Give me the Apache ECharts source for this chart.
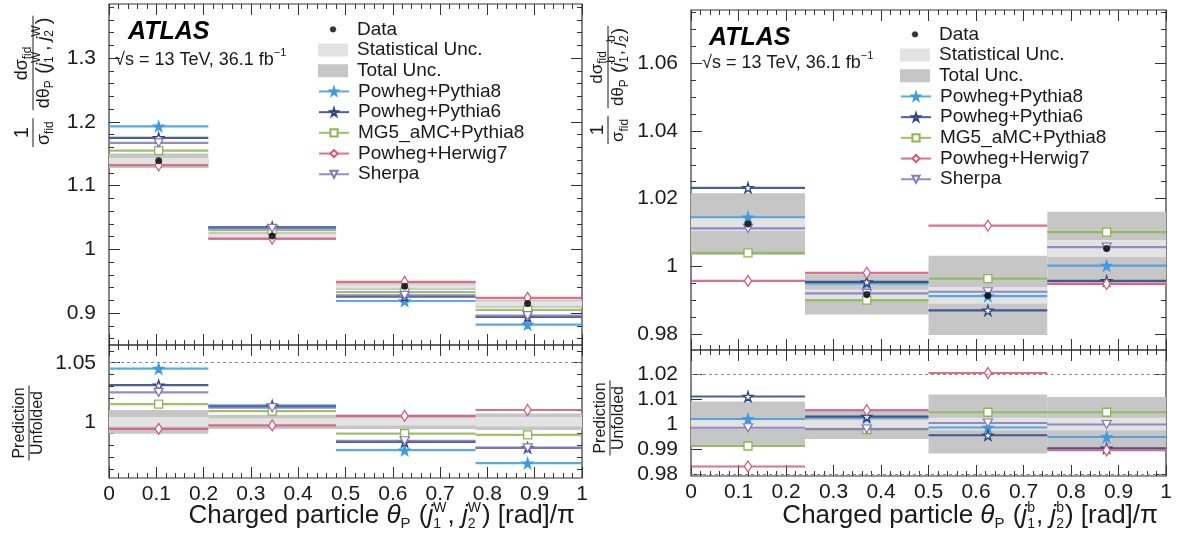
<!DOCTYPE html>
<html>
<head>
<meta charset="utf-8">
<title>Charged particle pull angle</title>
<script src="https://cdn.jsdelivr.net/npm/echarts@6/dist/echarts.min.js"></script>
<style>
  html, body { margin: 0; padding: 0; background: #fff; }
  #chart { width: 1177px; height: 543px; }
</style>
</head>
<body>
<div id="chart"></div>
<script>
// ---- binning ----
var leftEdges = [0, 0.21, 0.48, 0.775, 1];
var leftCenters = [0.105, 0.345, 0.625, 0.885];
var rightEdges = [0, 0.24, 0.5, 0.75, 1];
var rightCenters = [0.12, 0.37, 0.625, 0.875];

var modelNames = ['Powheg+Pythia8', 'Powheg+Pythia6', 'MG5_aMC+Pythia8', 'Powheg+Herwig7', 'Sherpa'];

// ---- left: theta_P(j1W, j2W), normalised cross-section ----
var leftData = [1.139, 1.021, 0.942, 0.915];
var leftPythia8 = [1.193, 1.035, 0.919, 0.882];
var leftPythia6 = [1.175, 1.034, 0.926, 0.894];
var leftMG5 = [1.155, 1.030, 0.933, 0.905];
var leftHerwig7 = [1.132, 1.017, 0.949, 0.924];
var leftSherpa = [1.167, 1.033, 0.928, 0.896];
var leftTotalRel = [0.010, 0.006, 0.006, 0.007];
var leftStatRel = [0.004, 0.003, 0.003, 0.004];

// left ratio prediction / unfolded
var leftRatioPythia8 = [1.045, 1.014, 0.976, 0.965];
var leftRatioPythia6 = [1.031, 1.013, 0.983, 0.978];
var leftRatioMG5 = [1.015, 1.009, 0.990, 0.989];
var leftRatioHerwig7 = [0.994, 0.997, 1.005, 1.010];
var leftRatioSherpa = [1.025, 1.012, 0.984, 0.978];

// ---- right: theta_P(j1b, j2b) ----
var rightData = [1.0125, 0.9917, 0.9914, 1.0053];
var rightPythia8 = [1.0145, 0.9950, 0.9912, 1.0002];
var rightPythia6 = [1.0232, 0.9954, 0.9870, 0.9957];
var rightMG5 = [1.0040, 0.9900, 0.9964, 1.0101];
var rightHerwig7 = [0.9957, 0.9981, 1.0120, 0.9948];
var rightSherpa = [1.0112, 0.9920, 0.9925, 1.0057];
var rightTotalRel = [0.009, 0.006, 0.0118, 0.0108];
var rightStatRel = [0.002, 0.0015, 0.0025, 0.0025];

var rightRatioPythia8 = [1.0020, 1.0025, 0.9986, 0.9948];
var rightRatioPythia6 = [1.0110, 1.0030, 0.9955, 0.9903];
var rightRatioMG5 = [0.9912, 0.9978, 1.0047, 1.0047];
var rightRatioHerwig7 = [0.9830, 1.0055, 1.0204, 0.9895];
var rightRatioSherpa = [0.9985, 0.9980, 1.0004, 0.9998];

// ---- ticks ----
var xTickLabels = [0, 0.1, 0.2, 0.3, 0.4, 0.5, 0.6, 0.7, 0.8, 0.9, 1];
var leftTopYTicks = [0.9, 1, 1.1, 1.2, 1.3];
var leftRatioYTicks = [1, 1.05];
var rightTopYTicks = [0.98, 1, 1.02, 1.04, 1.06];
var rightRatioYTicks = [0.98, 0.99, 1, 1.01, 1.02];
var leftRatioRefLines = [1.05];
var rightRatioRefLines = [0.98, 1.02];

var FONT = '"Liberation Sans", Arial, Helvetica, sans-serif';
var INK = '#1a1a1a';
var modelColors = ['#3d9be0', '#2e4383', '#8fb552', '#d8577b', '#8379bf'];
var STAR = 'path://M50,0 L61,35 L98,35 L68,57 L79,91 L50,70 L21,91 L32,57 L2,35 L39,35 Z';
var modelMarkers = [
  { symbol: STAR, size: 10, open: false },
  { symbol: STAR, size: 10, open: true },
  { symbol: 'path://M0,0 L10,0 L10,10 L0,10 Z', size: 8, open: true },
  { symbol: 'path://M5,0 L10,8 L5,16 L0,8 Z', size: [7, 11], open: true },
  { symbol: 'path://M0,0 L12,0 L6,10 Z', size: [9, 8], open: true }
];

var grids = [
  { left: 109, top: 4, width: 473, height: 341 },
  { left: 109, top: 345, width: 473, height: 133 },
  { left: 691, top: 10, width: 475, height: 340 },
  { left: 691, top: 350, width: 475, height: 126 }
];

function minorTicks(min, max, step) {
  var out = [];
  for (var k = Math.ceil(min / step - 1e-9); k * step <= max + 1e-9; k++) {
    out.push(+(k * step).toFixed(6));
  }
  return out;
}

function fmt(v) { return String(+(+v).toFixed(4)); }

function axisSet(dim, g, min, max, majors, minorStep, showLabels) {
  var posA = dim === 'x' ? 'bottom' : 'left';
  var posB = dim === 'x' ? 'top' : 'right';
  var minors = minorStep ? minorTicks(min, max, minorStep) : [];
  function one(pos, vals, len, labels) {
    return {
      type: 'value', gridIndex: g, min: min, max: max, position: pos,
      splitLine: { show: false },
      axisLine: { show: false, onZero: false },
      axisTick: { show: vals.length > 0, inside: true, length: len, customValues: vals,
        lineStyle: { color: '#333', width: 1 } },
      axisLabel: labels ? {
        show: true, customValues: majors, formatter: fmt,
        fontSize: 21, fontFamily: FONT, color: INK, margin: dim === 'x' ? 6 : 13
      } : { show: false }
    };
  }
  return [
    one(posA, majors, 11, showLabels),
    one(posA, minors, 5, false),
    one(posB, majors, 11, false),
    one(posB, minors, 5, false)
  ];
}

var xAxes = [].concat(
  axisSet('x', 0, 0, 1, xTickLabels, 0.02, false),
  axisSet('x', 1, 0, 1, xTickLabels, 0.02, true),
  axisSet('x', 2, 0, 1, xTickLabels, 0.02, false),
  axisSet('x', 3, 0, 1, xTickLabels, 0.02, true)
);
var yAxes = [].concat(
  axisSet('y', 0, 0.85, 1.385, leftTopYTicks, 0.02, true),
  axisSet('y', 1, 0.9525, 1.065, leftRatioYTicks, 0.01, true),
  axisSet('y', 2, 0.9753, 1.0757, rightTopYTicks, 0.005, true),
  axisSet('y', 3, 0.9792, 1.0296, rightRatioYTicks, 0, true)
);

function bandRender(params, api) {
  var lo = api.value(0), hi = api.value(1), c = api.value(2), e = api.value(3);
  var tl = api.coord([lo, c + e]), br = api.coord([hi, c - e]);
  var cs = params.coordSys;
  var shape = echarts.graphic.clipRectByRect(
    { x: tl[0], y: tl[1], width: br[0] - tl[0], height: br[1] - tl[1] },
    { x: cs.x, y: cs.y, width: cs.width, height: cs.height });
  return shape && { type: 'rect', shape: shape, style: { fill: api.visual('color') } };
}

function stepData(edges, centers, values) {
  var out = [];
  values.forEach(function (v, i) {
    out.push({ value: [edges[i], v], symbol: 'none' });
    out.push({ value: [centers[i], v] });
    out.push({ value: [edges[i + 1], v], symbol: 'none' });
    out.push([edges[i + 1], '-']);
  });
  return out;
}

function panel(g, edges, centers, centerVals, models, totalRel, statRel, refLines, withData) {
  var idx = g * 4;
  var list = [];
  function band(name, color, rel, z) {
    return {
      type: 'custom', name: name, xAxisIndex: idx, yAxisIndex: idx, z: z,
      itemStyle: { color: color }, renderItem: bandRender, silent: true,
      data: centerVals.map(function (c, i) { return [edges[i], edges[i + 1], c, c * rel[i]]; })
    };
  }
  var total = band('Total Unc.', '#c6c6c6', totalRel, 1);
  if (refLines.length) {
    total.markLine = {
      silent: true, symbol: 'none', label: { show: false }, animation: false,
      lineStyle: { type: [3, 3], color: '#8a8a8a', width: 1 },
      data: refLines.map(function (v) { return { yAxis: v }; })
    };
  }
  list.push(total, band('Statistical Unc.', '#e3e3e3', statRel, 2));
  models.forEach(function (vals, k) {
    var m = modelMarkers[k], col = modelColors[k];
    list.push({
      type: 'line', name: modelNames[k], xAxisIndex: idx, yAxisIndex: idx, z: 3 + k * 0.01,
      data: stepData(edges, centers, vals), connectNulls: false,
      symbol: m.symbol, symbolSize: m.size, showSymbol: true, showAllSymbol: true,
      lineStyle: { color: col, width: 2.2, opacity: 0.85 },
      itemStyle: { color: m.open ? '#fff' : col, borderColor: col, borderWidth: 1.3 },
      emphasis: { disabled: true }
    });
  });
  if (withData) {
    list.push({
      type: 'scatter', name: 'Data', xAxisIndex: idx, yAxisIndex: idx, z: 6,
      symbol: 'circle', symbolSize: 7, itemStyle: { color: '#000' },
      data: centers.map(function (c, i) { return [c, centerVals[i]]; })
    });
  }
  return list;
}

function ones(n) { var a = []; for (var i = 0; i < n; i++) a.push(1); return a; }

var series = [].concat(
  panel(0, leftEdges, leftCenters, leftData,
    [leftPythia8, leftPythia6, leftMG5, leftHerwig7, leftSherpa], leftTotalRel, leftStatRel, [], true),
  panel(1, leftEdges, leftCenters, ones(4),
    [leftRatioPythia8, leftRatioPythia6, leftRatioMG5, leftRatioHerwig7, leftRatioSherpa],
    leftTotalRel, leftStatRel, leftRatioRefLines, false),
  panel(2, rightEdges, rightCenters, rightData,
    [rightPythia8, rightPythia6, rightMG5, rightHerwig7, rightSherpa], rightTotalRel, rightStatRel, [], true),
  panel(3, rightEdges, rightCenters, ones(4),
    [rightRatioPythia8, rightRatioPythia6, rightRatioMG5, rightRatioHerwig7, rightRatioSherpa],
    rightTotalRel, rightStatRel, rightRatioRefLines, false)
);

// small dot icon padded to the legend box so it stays small
var DOT = 'path://M0,0 M30,13 M18.2,6.5 L17.3,8.8 L15,9.7 L12.7,8.8 L11.8,6.5 L12.7,4.2 L15,3.3 L17.3,4.2 Z';
var ROW = 20.7;
function legendPair(left, top) {
  var base = {
    orient: 'vertical', left: left, itemWidth: 30, itemGap: 0, selectedMode: false,
    textStyle: { fontSize: 19, fontFamily: FONT, color: INK, padding: [0, 0, 0, 4], lineHeight: ROW }
  };
  return [
    Object.assign({}, base, { top: top, itemHeight: 13, data: [
      { name: 'Data', icon: DOT },
      { name: 'Statistical Unc.', icon: 'rect' },
      { name: 'Total Unc.', icon: 'rect' }
    ] }),
    Object.assign({}, base, { top: top + 3 * ROW, itemHeight: 9,
      data: modelNames.map(function (n) { return { name: n }; }) })
  ];
}

// ---- inline math text (titles) ----
var measureCtx = document.createElement('canvas').getContext('2d');
function textWidth(t, s, it) {
  measureCtx.font = (it ? 'italic ' : '') + s + 'px ' + FONT;
  return measureCtx.measureText(t).width;
}
function txt(t, s, it, x, y) {
  return { type: 'text', x: x, y: y, silent: true,
    style: { text: t, font: (it ? 'italic ' : '') + s + 'px ' + FONT, fill: INK, align: 'left', verticalAlign: 'middle' } };
}
function mathText(pieces) {
  var children = [], x = 0;
  pieces.forEach(function (p) {
    if (p.num) {
      var n = mathText(p.num), d = mathText(p.den);
      var w = Math.max(n.width, d.width) + 4;
      n.el.x = x + (w - n.width) / 2; n.el.y = -p.gap;
      d.el.x = x + (w - d.width) / 2; d.el.y = p.gap;
      children.push(n.el, d.el, { type: 'line', silent: true, shape: { x1: x, y1: 0, x2: x + w, y2: 0 },
        style: { stroke: INK, lineWidth: 1 } });
      x += w + (p.after || 4);
    } else if (p.sub != null || p.sup != null) {
      var w2 = 0;
      if (p.sub != null) { children.push(txt(p.sub, p.s, false, x, p.subDy)); w2 = textWidth(p.sub, p.s); }
      if (p.sup != null) { children.push(txt(p.sup, p.s, false, x, p.supDy)); w2 = Math.max(w2, textWidth(p.sup, p.s)); }
      x += w2 + 1;
    } else {
      children.push(txt(p.t, p.s, p.i, x, p.dy || 0));
      x += textWidth(p.t, p.s, p.i);
    }
  });
  return { el: { type: 'group', children: children }, width: x };
}

function xTitle(tag, right, y) {
  var m = mathText([
    { t: 'Charged particle ', s: 26 }, { t: 'θ', s: 26, i: true }, { sub: 'P', s: 15, subDy: 8 },
    { t: ' (', s: 26 }, { t: 'j', s: 26, i: true }, { sub: '1', sup: tag, s: 14, subDy: 8, supDy: -8 },
    { t: ', ', s: 26 }, { t: 'j', s: 26, i: true }, { sub: '2', sup: tag, s: 14, subDy: 8, supDy: -8 },
    { t: ') [rad]/π', s: 26 }
  ]);
  m.el.x = right - m.width; m.el.y = y;
  return m.el;
}
function yTitleTop(tag, x, bottom, k) {
  var big = Math.round(20 * k), mid = Math.round(18 * k), sm = Math.round(12 * k);
  var m = mathText([
    { num: [{ t: '1', s: big }], den: [{ t: 'σ', s: mid }, { sub: 'fid', s: sm, subDy: 6 * k }],
      gap: 11 * k, after: 8 * k },
    { num: [{ t: 'dσ', s: mid }, { sub: 'fid', s: sm, subDy: 6 * k }],
      den: [{ t: 'dθ', s: mid }, { sub: 'P', s: sm, subDy: 6 * k }, { t: ' (', s: big }, { t: 'j', s: mid, i: true },
        { sub: '1', sup: tag, s: sm, subDy: 6 * k, supDy: -7 * k }, { t: ', ', s: mid }, { t: 'j', s: mid, i: true },
        { sub: '2', sup: tag, s: sm, subDy: 6 * k, supDy: -7 * k }, { t: ')', s: big }], gap: 11 * k }
  ]);
  return { type: 'group', x: x, y: bottom, rotation: Math.PI / 2, children: [m.el] };
}
function yTitleRatio(x, cy) {
  var m = mathText([{ num: [{ t: 'Prediction', s: 16 }], den: [{ t: 'Unfolded', s: 16 }], gap: 9 }]);
  return { type: 'group', x: x, y: cy + m.width / 2, rotation: Math.PI / 2, children: [m.el] };
}
function energy(x, y) {
  var m = mathText([{ t: '√s = 13 TeV, 36.1 fb', s: 18 }, { sup: '−1', s: 11, supDy: -7 }]);
  m.el.x = x; m.el.y = y;
  return m.el;
}

var graphics = [
  { type: 'text', x: 128, y: 32, silent: true,
    style: { text: 'ATLAS', font: 'italic bold 25px ' + FONT, fill: '#000', verticalAlign: 'middle' } },
  { type: 'text', x: 709, y: 38, silent: true,
    style: { text: 'ATLAS', font: 'italic bold 25px ' + FONT, fill: '#000', verticalAlign: 'middle' } },
  energy(115, 60), energy(702, 63),
  xTitle('W', 575, 516), xTitle('b', 1158, 516),
  yTitleTop('W', 33, 147, 1), yTitleTop('b', 608, 144, 0.97),
  yTitleRatio(29, 421), yTitleRatio(610, 416)
];

var chart = echarts.init(document.getElementById('chart'), null, { renderer: 'canvas' });
chart.setOption({
  animation: false,
  backgroundColor: '#fff',
  grid: grids.map(function (g) {
    return { left: g.left, top: g.top, width: g.width, height: g.height, show: true,
      borderColor: '#333', borderWidth: 1.2, backgroundColor: 'transparent', outerBoundsMode: 'none' };
  }),
  xAxis: xAxes,
  yAxis: yAxes,
  legend: [].concat(legendPair(313, 14), legendPair(895, 19)),
  series: series,
  graphic: graphics
});
</script>
</body>
</html>
